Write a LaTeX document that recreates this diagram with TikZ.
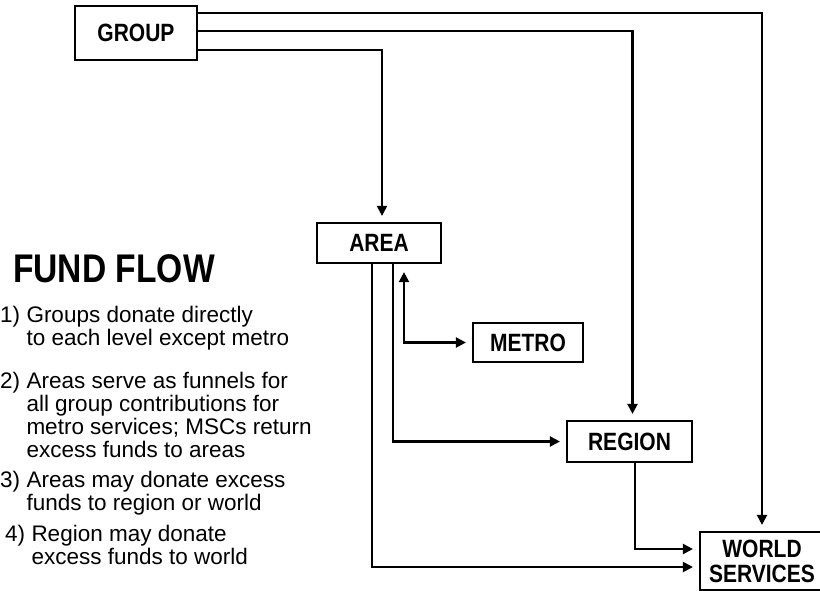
\documentclass[tikz,border=0pt]{standalone}
\usepackage{fontspec}
\setmainfont{Liberation Sans}
\newfontfamily\boxfont{Liberation Sans Bold}[FakeStretch=0.84]
\usetikzlibrary{arrows.meta,calc}

\tikzset{
  >={Triangle[length=10pt,width=10pt]},
  box/.style={draw, line width=2.2pt, inner sep=0pt, align=center,
    font=\boxfont\fontsize{25}{25}\selectfont},
  flow/.style={->, line width=2.2pt, shorten >=6pt},
  note/.style={anchor=base west, inner sep=0pt, font=\fontsize{22.5}{23}\selectfont}
}

\begin{document}
\begin{tikzpicture}[x=1pt,y=1pt,yscale=-1]
\useasboundingbox (0,0) rectangle (820,590);

% Boxes
\node [box, minimum width=122pt, minimum height=54pt] (group) at (136,33) {GROUP};
\node [box, minimum width=124pt, minimum height=40pt] (area) at (379,243) {AREA};
\node [box, minimum width=110pt, minimum height=39pt] (metro) at (528,342.5) {METRO};
\node [box, minimum width=125pt, minimum height=41pt] (region) at (629.5,441.5) {REGION};
\node [box, minimum width=124pt, minimum height=58pt] (world) at (762,561) {WORLD\\SERVICES};

% Lines from group
\draw [flow] ($(group.north east)+(0,8)$) -| (world.north);
\draw [flow] ($(group.north east)+(0,26)$) -| ($(region.north)+(3,0)$);
\draw [flow] ($(group.north east)+(0,45)$) -| ($(area.north)+(3,0)$);

% Lines from area
\draw [flow] ($(area.south)+(-7,0)$) |- ($(world.west)+(0,6)$);
\draw [flow] ($(area.south)+(14,0)$) |- (region.west);
\draw [flow, <->, shorten <=8pt] ($(area.south)+(25,0)$) |- (metro.west);

% Line from region
\draw [flow] ($(region.south)+(5.5,0)$) |- ($(world.west)+(0,-12)$);

% Text Node
\node [anchor=base west, inner sep=0pt, font=\boxfont\fontsize{40}{40}\selectfont] (title) at (13,282) {FUND FLOW};
\node [note] (note1) at (0,322) {\begin{tabular}[t]{@{}l@{\hskip0.28em}l@{}}1) & Groups donate directly\\ & to each level except metro\end{tabular}};
\node [note] (note2) at (0,388) {\begin{tabular}[t]{@{}l@{\hskip0.28em}l@{}}2) & Areas serve as funnels for\\ & all group contributions for\\ & metro services; MSCs return\\ & excess funds to areas\end{tabular}};
\node [note] (note3) at (0,487) {\begin{tabular}[t]{@{}l@{\hskip0.28em}l@{}}3) & Areas may donate excess\\ & funds to region or world\end{tabular}};
\node [note] (note4) at (5,541) {\begin{tabular}[t]{@{}l@{\hskip0.28em}l@{}}4) & Region may donate\\ & excess funds to world\end{tabular}};

\end{tikzpicture}
\end{document}
